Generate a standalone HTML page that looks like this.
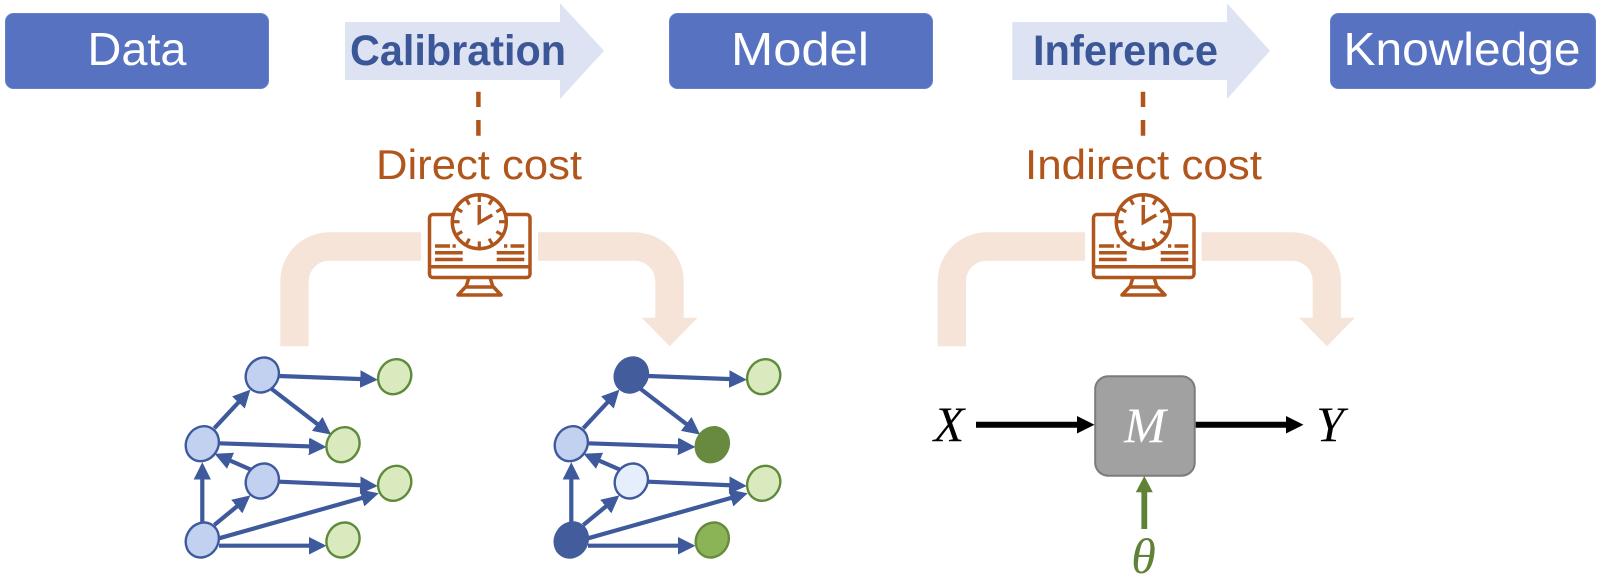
<!DOCTYPE html>
<html><head><meta charset="utf-8"><style>
html,body{margin:0;padding:0;background:#fff}
svg{display:block}
text{font-family:"Liberation Sans",sans-serif}
.m{font-family:"Liberation Serif",serif;font-style:italic}
</style></head><body>
<svg xmlns="http://www.w3.org/2000/svg" width="1600" height="577" viewBox="0 0 1600 577">
<defs>
<marker id="ah" markerUnits="userSpaceOnUse" markerWidth="24" markerHeight="24" refX="9" refY="12" orient="auto" viewBox="0 0 24 24"><path d="M-0.500 3L17.500 12L-0.500 21z" fill="#3f5a9c"/></marker>
<ellipse id="nd" cx="0" cy="0" rx="18" ry="16" transform="rotate(-58)"/>
<g id="edges" stroke="#3f5a9c" stroke-width="4.200" fill="none">
<line x1="279.3" y1="376" x2="369.3" y2="379.4" marker-end="url(#ah)"/>
<line x1="271.7" y1="389" x2="324.4" y2="429.4" marker-end="url(#ah)"/>
<line x1="214.3" y1="428.3" x2="244.6" y2="395.8" marker-end="url(#ah)"/>
<line x1="219" y1="443.3" x2="318" y2="446.7" marker-end="url(#ah)"/>
<line x1="251.7" y1="470" x2="222.3" y2="457.2" marker-end="url(#ah)"/>
<line x1="279.3" y1="481.7" x2="369.3" y2="485.6" marker-end="url(#ah)"/>
<line x1="202.3" y1="522.7" x2="202.3" y2="470.7" marker-end="url(#ah)"/>
<line x1="214.3" y1="525" x2="243.8" y2="500.8" marker-end="url(#ah)"/>
<line x1="219" y1="538.3" x2="370.6" y2="495.5" marker-end="url(#ah)"/>
<line x1="219" y1="545.7" x2="318" y2="545.7" marker-end="url(#ah)"/>
</g>
<g id="icon" fill="none" stroke="#b0551b" stroke-width="3.500">
<rect x="429.5" y="214.5" width="100.5" height="63" rx="3.5"/>
<line x1="429.5" y1="266.7" x2="530" y2="266.7"/>
<path d="M469 277.5L466 287M490 277.5L493 287" />
<path d="M465.500 287H493.500L501 295H458z" stroke-linejoin="round"/>
<circle cx="479.3" cy="221.7" r="27" fill="#fff"/>
<path d="M479.3 205V222.5L492.3 215"/>
<g stroke-width="3.200">
<line x1="479.3" y1="194.5" x2="479.3" y2="202"/>
<line x1="479.3" y1="194.5" x2="479.3" y2="202" transform="rotate(30 479.3 221.7)"/>
<line x1="479.3" y1="194.5" x2="479.3" y2="202" transform="rotate(60 479.3 221.7)"/>
<line x1="479.3" y1="194.5" x2="479.3" y2="202" transform="rotate(90 479.3 221.7)"/>
<line x1="479.3" y1="194.5" x2="479.3" y2="202" transform="rotate(120 479.3 221.7)"/>
<line x1="479.3" y1="194.5" x2="479.3" y2="202" transform="rotate(150 479.3 221.7)"/>
<line x1="479.3" y1="194.5" x2="479.3" y2="202" transform="rotate(180 479.3 221.7)"/>
<line x1="479.3" y1="194.5" x2="479.3" y2="202" transform="rotate(210 479.3 221.7)"/>
<line x1="479.3" y1="194.5" x2="479.3" y2="202" transform="rotate(240 479.3 221.7)"/>
<line x1="479.3" y1="194.5" x2="479.3" y2="202" transform="rotate(270 479.3 221.7)"/>
<line x1="479.3" y1="194.5" x2="479.3" y2="202" transform="rotate(300 479.3 221.7)"/>
<line x1="479.3" y1="194.5" x2="479.3" y2="202" transform="rotate(330 479.3 221.7)"/>
</g>
<path d="M435 246H450M452.500 246H455.800M435 252.700H462.700M435 259.500H462.700M496.700 252.700H524.300M496.700 259.500H524.300M504 246H507.300M510.500 246H524.300"/>
</g>
</defs>

<!-- top row -->
<g fill="#5672c1" stroke="#6580cb" stroke-width="1">
<rect x="5.500" y="13.500" width="263" height="75" rx="8"/>
<rect x="669.500" y="13.500" width="263" height="75" rx="8"/>
<rect x="1330.500" y="13.500" width="265" height="75" rx="8"/>
</g>
<g fill="#fff" font-size="46" text-anchor="middle">
<text x="137" y="65" textLength="99" lengthAdjust="spacingAndGlyphs">Data</text>
<text x="800" y="65" textLength="138" lengthAdjust="spacingAndGlyphs">Model</text>
<text x="1462" y="65" textLength="237" lengthAdjust="spacingAndGlyphs">Knowledge</text>
</g>
<g fill="#dde3f3">
<path d="M345 22H560V3.300L604 50.700L560 99V80H345z"/>
<path d="M1012.300 22H1227V3.300L1270 50.700L1227 99V80H1012.300z"/>
</g>
<g fill="#3c5797" font-size="43" font-weight="bold" text-anchor="middle">
<text x="458" y="65" textLength="216" lengthAdjust="spacingAndGlyphs">Calibration</text>
<text x="1125.500" y="65" textLength="185" lengthAdjust="spacingAndGlyphs">Inference</text>
</g>

<!-- dashed connectors -->
<g stroke="#b0551b" stroke-width="4.500">
<path d="M478.400 91.700V107M478.400 120V135.700"/>
<path d="M1143 91.700V107M1143 120V135.700"/>
</g>
<g fill="#b0551b" font-size="42" text-anchor="middle">
<text x="479" y="179" textLength="206" lengthAdjust="spacingAndGlyphs">Direct cost</text>
<text x="1143.500" y="179" textLength="237" lengthAdjust="spacingAndGlyphs">Indirect cost</text>
</g>

<!-- peach flow arrows -->
<g fill="#f6e4d8">
<path d="M280.300 346.300V281.300A49 49 0 0 1 329.300 232.300H421V260.700H329.300A20.500 20.500 0 0 0 308.700 281.300V346.300z"/>
<path d="M538 232.300H634.700A49 49 0 0 1 683.700 281.300V317.700H697.700L669.700 346.300L641.700 317.700H655.300V281.300A20.500 20.500 0 0 0 634.700 260.700H538z"/>
<path d="M937.700 346.300V281.300A49 49 0 0 1 986.700 232.300H1085V260.700H986.700A20.500 20.500 0 0 0 966 281.300V346.300z"/>
<path d="M1201.700 232.300H1292A49 49 0 0 1 1341 281.300V317.700H1355L1327 346.300L1299 317.700H1312.700V281.300A20.500 20.500 0 0 0 1292 260.700H1201.700z"/>
</g>

<!-- icons -->
<use href="#icon"/>
<use href="#icon" transform="translate(664 0)"/>

<!-- left graph -->
<use href="#edges"/>
<g stroke-width="2.400">
<g fill="#c1d1ef" stroke="#3f5a9c">
<use href="#nd" transform="translate(262.300 375)"/>
<use href="#nd" transform="translate(202.300 443.700)"/>
<use href="#nd" transform="translate(262.300 481)"/>
<use href="#nd" transform="translate(202.300 540)"/>
</g>
<g fill="#d9eabf" stroke="#5f8a3a">
<use href="#nd" transform="translate(394.700 376.700)"/>
<use href="#nd" transform="translate(343 444.700)"/>
<use href="#nd" transform="translate(394.700 483.300)"/>
<use href="#nd" transform="translate(343 540)"/>
</g>
</g>

<!-- right graph -->
<use href="#edges" transform="translate(369 0)"/>
<g stroke-width="2.400">
<use href="#nd" transform="translate(631.300 375)" fill="#435c9c" stroke="#435c9c"/>
<use href="#nd" transform="translate(571.300 443.700)" fill="#c1d1ef" stroke="#3f5a9c"/>
<use href="#nd" transform="translate(631.300 481)" fill="#e7eefb" stroke="#3f5a9c"/>
<use href="#nd" transform="translate(571.300 540)" fill="#435c9c" stroke="#435c9c"/>
<use href="#nd" transform="translate(763.700 376.700)" fill="#d9eabf" stroke="#5f8a3a"/>
<use href="#nd" transform="translate(712.300 444.700)" fill="#688a3f" stroke="#688a3f"/>
<use href="#nd" transform="translate(763.700 483.300)" fill="#d9eabf" stroke="#5f8a3a"/>
<use href="#nd" transform="translate(712.300 540)" fill="#8ab455" stroke="#688a3f"/>
</g>

<!-- model block -->
<rect x="1095.200" y="376.200" width="99.500" height="99.500" rx="13" fill="#a1a1a1" stroke="#7b7b7b" stroke-width="2"/>
<text class="m" x="1145" y="442" font-size="50" fill="#fff" text-anchor="middle">M</text>
<text class="m" x="949" y="441" font-size="50" fill="#000" text-anchor="middle">X</text>
<text class="m" x="1330" y="441" font-size="50" fill="#000" text-anchor="middle">Y</text>
<text class="m" x="1143.500" y="573" font-size="50" fill="#5f8237" text-anchor="middle">θ</text>
<path d="M976 421.700H1077V416L1094.500 424.700L1077 433.500V427.700H976z" fill="#000"/>
<path d="M1195.700 421.700H1286V416L1303.500 424.700L1286 433.500V427.700H1195.700z" fill="#000"/>
<path d="M1141.400 529V492.300H1135.800L1144.300 476L1152.800 492.300H1147.200V529z" fill="#5f8237"/>
</svg>
</body></html>
